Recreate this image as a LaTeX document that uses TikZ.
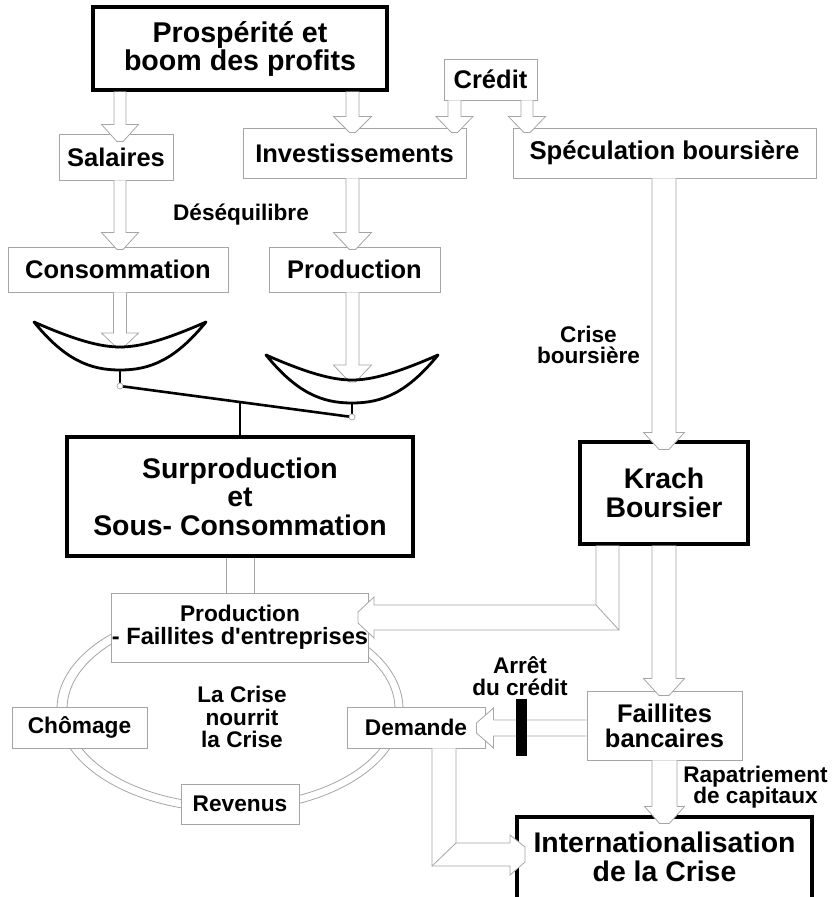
\documentclass[tikz,border=0pt]{standalone}
\usepackage{fontspec}
\setmainfont{Liberation Sans}
\usetikzlibrary{calc}
\definecolor{lg}{RGB}{165,165,165}
\definecolor{llg}{RGB}{225,225,225}
\tikzset{
 thinbox/.style={draw=lg, line width=0.9pt, fill=white, inner sep=0pt, align=center, font=\fontsize{25.5}{25}\selectfont\bfseries},
 thickbox/.style={draw=black, line width=3.2pt, fill=white, inner sep=0pt, align=center, font=\fontsize{28.4}{28.5}\selectfont\bfseries},
 smallbox/.style={thinbox, font=\fontsize{22.7}{23}\selectfont\bfseries},
 lbl/.style={inner sep=0pt, align=center, font=\fontsize{22.6}{21.5}\selectfont\bfseries},
 blk/.style={fill=white, draw=lg, line width=0.8pt, line join=miter},
 pan/.style={draw=black, line width=2.8pt, line join=round},
 beam/.style={draw=black, line width=2.6pt},
 hook/.style={draw=lg, line width=0.7pt, fill=white},
 ring/.style={draw=lg, line width=0.8pt},
}
% vertical block arrow: #1 start (shaft centre), #2 tip, #3 half shaft, #4 half head, #5 head length, #6 half flat tip
\newcommand{\blkV}[6]{%
 \path[blk] let \p1=#1, \p2=#2 in
  (\x1-#3pt,\y1) -- (\x1-#3pt,\y2+#5pt) -- (\x1-#4pt,\y2+#5pt) -- (\x1-#6pt,\y2)
  -- (\x1+#6pt,\y2) -- (\x1+#4pt,\y2+#5pt) -- (\x1+#3pt,\y2+#5pt) -- (\x1+#3pt,\y1);}
% leftward block arrow
\newcommand{\blkL}[6]{%
 \path[blk] let \p1=#1, \p2=#2 in
  (\x1,\y1+#3pt) -- (\x2+#5pt,\y1+#3pt) -- (\x2+#5pt,\y1+#4pt) -- (\x2,\y1+#6pt)
  -- (\x2,\y1-#6pt) -- (\x2+#5pt,\y1-#4pt) -- (\x2+#5pt,\y1-#3pt) -- (\x1,\y1-#3pt);}
% balance pan: #1 centre x, #2 tip y
\newcommand{\panshape}[2]{%
 \draw[pan] (#1-86,#2) .. controls (#1-45,#2+18) and (#1-20,#2+25) .. (#1,#2+25)
   .. controls (#1+20,#2+25) and (#1+45,#2+18) .. (#1+86,#2)
   .. controls (#1+55,#2+38) and (#1+30,#2+48) .. (#1,#2+48)
   .. controls (#1-30,#2+48) and (#1-55,#2+38) .. cycle;}
\begin{document}
\begin{tikzpicture}[x=1pt,y=-1pt]
\useasboundingbox (0,0) rectangle (834,897);
\fill[white] (0,0) rectangle (834,897);

% the vicious circle (double line)
\draw[ring] (230,709) ellipse [x radius=173pt, y radius=103pt];
\draw[ring] (231,709) ellipse [x radius=164pt, y radius=95pt];

% boxes
\node[thickbox, font=\fontsize{28.6}{28}\selectfont\bfseries, minimum width=294pt, minimum height=83pt] (top) at (240,48.5) {Prospérité et\\boom des profits};
\node[thinbox, minimum width=93pt, minimum height=41pt] (credit) at (490.5,79.5) {Crédit};
\node[thinbox, minimum width=114pt, minimum height=46pt] (sal) at (116,157) {Salaires};
\node[thinbox, minimum width=223pt, minimum height=50pt] (inv) at (354.5,153) {Investissements};
\node[thinbox, font=\fontsize{25.7}{25}\selectfont\bfseries, minimum width=303pt, minimum height=50pt] (spec) at (664.5,153) {Spéculation boursière};
\node[thinbox, minimum width=220pt, minimum height=45pt] (cons) at (118,269.5) {Consommation};
\node[thinbox, minimum width=171pt, minimum height=45pt] (prod) at (354.5,269.5) {Production};
\node[thickbox, minimum width=346pt, minimum height=119pt] (surp) at (240,496.5) {Surproduction\\et\\Sous- Consommation};
\node[thickbox, minimum width=168pt, minimum height=102pt] (krach) at (664,493) {Krach\\Boursier};
\node[smallbox, minimum width=256pt, minimum height=69pt] (prodf) at (240,627.5) {Production\\{\fontsize{23.6}{23}\selectfont - Faillites d\textquotesingle entreprises}};
\node[smallbox, minimum width=135pt, minimum height=41pt] (chom) at (79.5,727.5) {Chômage};
\node[smallbox, minimum width=138pt, minimum height=41pt] (dem) at (416,727.5) {Demande};
\node[smallbox, minimum width=118pt, minimum height=40pt] (rev) at (240,804) {Revenus};
\node[thinbox, minimum width=155pt, minimum height=69pt] (failb) at (664.5,725.5) {Faillites\\bancaires};
\node[thickbox, draw=none, minimum width=295pt, minimum height=80pt] (intl) at (664.5,857) {Internationalisation\\de la Crise};
\draw[black, line width=3.2pt] ([xshift=1.6pt]intl.south west) -- ([xshift=1.6pt,yshift=-1.6pt]intl.north west) -- ([xshift=-1.6pt,yshift=-1.6pt]intl.north east) -- ([xshift=-1.6pt]intl.south east);

% block arrows
\blkV{(top.south -| 120,0)}{([yshift=-8pt]sal.north -| 120,0)}{6}{18.5}{17}{3}
\blkV{(top.south -| 352.5,0)}{([yshift=-5pt]inv.north -| 352.5,0)}{6.5}{19}{16}{3}
\blkV{(credit.south -| 454.5,0)}{([yshift=-5pt]inv.north -| 454.5,0)}{6.5}{18.5}{16}{3}
\blkV{(credit.south -| 527,0)}{([yshift=-5pt]spec.north -| 527,0)}{6}{18.5}{16}{3}
\blkV{(sal.south -| 120,0)}{([yshift=-3pt]cons.north -| 120,0)}{6}{18.5}{17}{3}
\blkV{(inv.south -| 352.5,0)}{([yshift=-3pt]prod.north -| 352.5,0)}{6.5}{19}{17}{3}
\blkV{(cons.south -| 120,0)}{(120,348)}{6.5}{18.5}{15}{3}
\blkV{(prod.south -| 352.5,0)}{(352.5,382)}{6.5}{19}{17}{3}
\blkV{(spec.south -| 664,0)}{([yshift=-9pt]krach.north -| 664,0)}{12}{20.5}{17}{5}
\blkV{(krach.south -| 664,0)}{([yshift=-5pt]failb.north -| 664,0)}{12}{20.5}{17}{5}
\blkV{(failb.south -| 664.5,0)}{([yshift=-8pt]intl.north -| 664.5,0)}{12.5}{20}{17}{5}

% Faillites bancaires -> Demande
\blkL{(failb.west |- 0,728)}{([xshift=-9pt]dem.east |- 0,728)}{8}{20}{17}{5}
\draw[llg, line width=0.9pt] (failb.west |- 0,720) -- (493,720);

% Surproduction -> Production - Faillites (plain shaft)
\draw[lg, line width=0.8pt] (surp.south -| 226,0) -- (prodf.north -| 226,0);
\draw[lg, line width=0.8pt] (surp.south -| 254,0) -- (prodf.north -| 254,0);

% Krach -> Production - Faillites (bent)
\path[blk] (596,0 |- krach.south) -- (596,605) -- (374,605) -- (374,597) -- (358,612) -- (358,623)
  -- (374,638) -- (374,630) -- (619,630) -- (619,0 |- krach.south);
\draw[lg, line width=0.8pt] (596,605) -- (619,630);

% Demande -> Internationalisation (bent)
\path[blk] (432,0 |- dem.south) -- (432,866) -- (510,866) -- (510,875) -- (525,862) -- (525,847)
  -- (510,835) -- (510,843) -- (456,843) -- (456,0 |- dem.south);
\draw[lg, line width=0.8pt] (432,866) -- (456,843);

% balance
\panshape{120}{322}
\panshape{352}{355}
\coordinate (lhook) at (120,386);
\coordinate (rhook) at (352,417);
\draw[beam] (120,370) -- (120,383);
\draw[beam] (352,402) -- (352,414);
\draw[beam] (lhook) -- (rhook);
\coordinate (mid) at ($(lhook)!0.517!(rhook)$);
\draw[beam] (mid) -- (mid |- surp.north);
\draw[hook] (lhook) circle [radius=3pt];
\draw[hook] (rhook) circle [radius=3pt];

% credit stop bar
\node[fill=black, inner sep=0pt, minimum width=11pt, minimum height=57pt] (bar) at (521.5,727.5) {};

% labels
\node[lbl] (deseq) at (241,215) {Déséquilibre};
\node[lbl] (criseb) at (588.5,345) {Crise\\boursière};
\node[lbl, font=\fontsize{22.6}{22.5}\selectfont\bfseries] (nourrit) at (242,717) {La Crise\\nourrit\\la Crise};
\node[lbl] (arret) at (520,676) {Arrêt\\du crédit};
\node[lbl] (rapat) at (755.5,787) {Rapatriement\\de capitaux};
\end{tikzpicture}
\end{document}
